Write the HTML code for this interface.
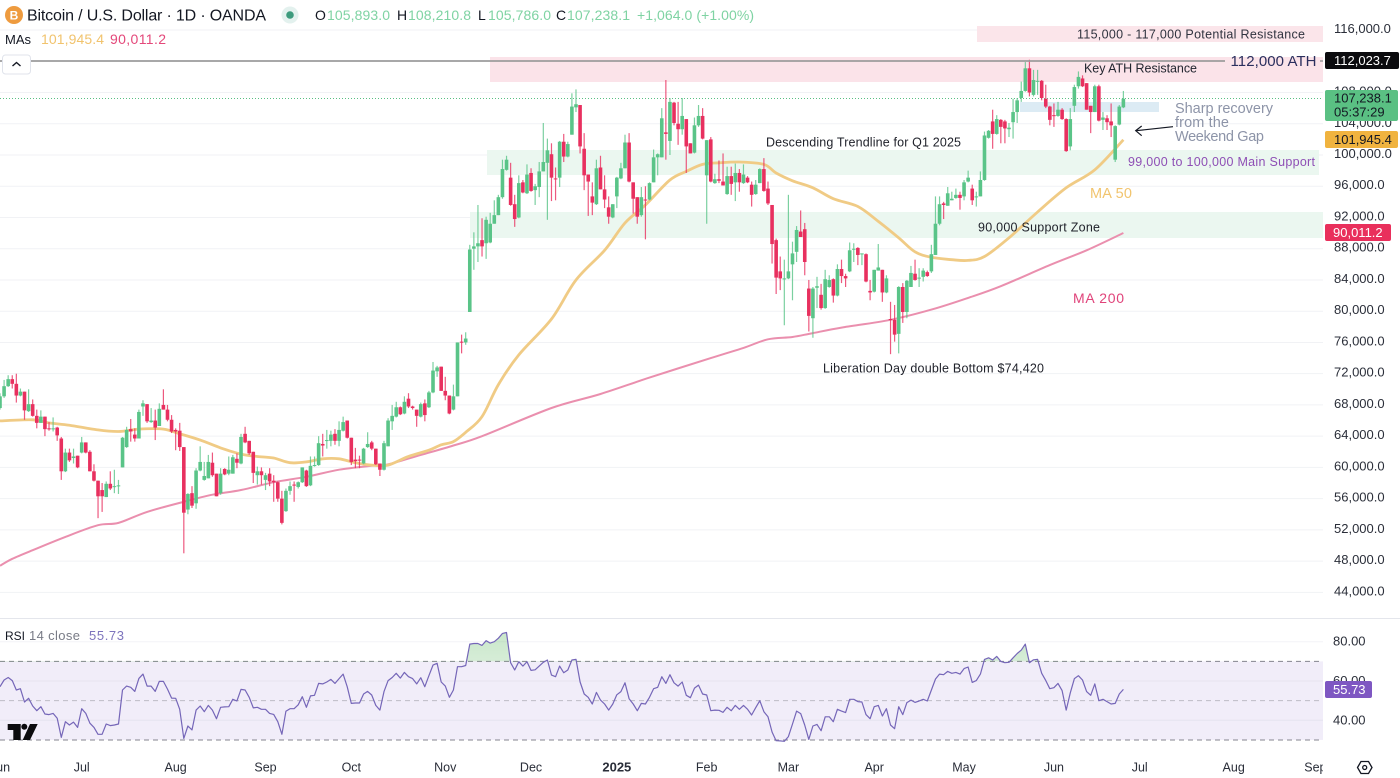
<!DOCTYPE html>
<html lang="en">
<head>
<meta charset="utf-8">
<title>Bitcoin / U.S. Dollar chart</title>
<style>
html,body{margin:0;padding:0;background:#fff;width:1400px;height:778px;overflow:hidden}
svg{display:block;font-family:"Liberation Sans","DejaVu Sans",sans-serif;filter:blur(0.3px)}
</style>
</head>
<body>
<svg id="chart" xmlns="http://www.w3.org/2000/svg" width="1400" height="778" viewBox="0 0 1400 778">
  <defs>
    <clipPath id="pane-clip"><rect x="0" y="0" width="1323" height="618"/></clipPath>
    <clipPath id="time-clip"><rect x="0" y="750" width="1323" height="28"/></clipPath>
    <clipPath id="rsi-above-clip"><rect x="0" y="619" width="1323" height="42.7"/></clipPath>
    <linearGradient id="rsi-over-grad" x1="0" y1="0" x2="0" y2="1">
      <stop offset="0" stop-color="#4caf50" stop-opacity="0.3"/>
      <stop offset="1" stop-color="#4caf50" stop-opacity="0.03"/>
    </linearGradient>
  </defs>
  <rect x="0" y="0" width="1400" height="778" fill="#ffffff"/>

  <g id="grid-lines"></g>

  <g clip-path="url(#pane-clip)">
    <rect x="977" y="26" width="346" height="16" fill="#fbe5ea"/>
    <rect x="490" y="57" width="833" height="25" fill="#fbe3e9"/>
    <rect x="1020" y="102" width="139" height="10" fill="#dcebf4"/>
    <rect x="487" y="150" width="832" height="25" fill="#ebf7f0"/>
    <rect x="470" y="212" width="853" height="26" fill="#ebf7f0"/>
  </g>

  <line x1="0" y1="98.5" x2="1323" y2="98.5" stroke="#5ac083" stroke-width="1" stroke-dasharray="1 2"/>

  <g id="ma-lines" clip-path="url(#pane-clip)"></g>
  <g id="candles" clip-path="url(#pane-clip)"></g>

  <line x1="0" y1="61" x2="1225" y2="61" stroke="#9a9a9a" stroke-opacity="0.85" stroke-width="2"/>
  <line x1="1320" y1="61" x2="1323" y2="61" stroke="#9a9a9a" stroke-width="1.5"/>

  <g>
    <text x="1077" y="38.5" font-size="12.5" fill="#30333f" textLength="228" lengthAdjust="spacing">115,000 - 117,000 Potential Resistance</text>
    <text x="1084" y="72.5" font-size="12.5" fill="#22252f" textLength="113" lengthAdjust="spacing">Key ATH Resistance</text>
    <text x="1230.5" y="66" font-size="15" fill="#2b2f5e" textLength="86" lengthAdjust="spacing">112,000 ATH</text>
    <text x="1175" y="113" font-size="14.5" fill="#8d94a8" textLength="98" lengthAdjust="spacing">Sharp recovery</text>
    <text x="1175" y="127" font-size="14.5" fill="#8d94a8" textLength="54" lengthAdjust="spacing">from the</text>
    <text x="1175" y="141" font-size="14.5" fill="#8d94a8" textLength="89" lengthAdjust="spacing">Weekend Gap</text>
    <path d="M1173 126.7 L1136 130.7 M1141.7 126 L1135.7 130.7 L1141.7 135.7" fill="none" stroke="#131722" stroke-width="1.2"/>
    <text x="766" y="146.5" font-size="12.5" fill="#1e2029" textLength="195" lengthAdjust="spacing">Descending Trendline for Q1 2025</text>
    <text x="1128" y="166" font-size="12.5" fill="#8e4fb5" textLength="187" lengthAdjust="spacing">99,000 to 100,000 Main Support</text>
    <text x="1090" y="198" font-size="14.5" fill="#f1c46e" textLength="42" lengthAdjust="spacing">MA 50</text>
    <text x="978" y="231.5" font-size="12.5" fill="#1e2029" textLength="122" lengthAdjust="spacing">90,000 Support Zone</text>
    <text x="1073" y="303" font-size="14" fill="#e0437a" textLength="51" lengthAdjust="spacing">MA 200</text>
    <text x="823" y="372.5" font-size="12.5" fill="#1e2029" textLength="221" lengthAdjust="spacing">Liberation Day double Bottom $74,420</text>
  </g>

  <g>
    <circle cx="14" cy="15" r="9" fill="#ee9b3f"/>
    <text x="14" y="19.5" font-size="12" font-weight="bold" fill="#ffffff" text-anchor="middle">B</text>
    <text x="27" y="20.5" font-size="16" fill="#131722" textLength="239" lengthAdjust="spacing">Bitcoin / U.S. Dollar · 1D · OANDA</text>
    <circle cx="290" cy="15" r="8.5" fill="#e3f1ee"/>
    <circle cx="290" cy="15" r="3.8" fill="#3d9b7d"/>
    <text x="315" y="20" font-size="14" fill="#131722">O</text>
    <text x="327" y="20" font-size="14" fill="#7fd3a3" textLength="63" lengthAdjust="spacing">105,893.0</text>
    <text x="397" y="20" font-size="14" fill="#131722">H</text>
    <text x="408" y="20" font-size="14" fill="#7fd3a3" textLength="63" lengthAdjust="spacing">108,210.8</text>
    <text x="478" y="20" font-size="14" fill="#131722">L</text>
    <text x="488" y="20" font-size="14" fill="#7fd3a3" textLength="63" lengthAdjust="spacing">105,786.0</text>
    <text x="556" y="20" font-size="14" fill="#131722">C</text>
    <text x="567" y="20" font-size="14" fill="#7fd3a3" textLength="63" lengthAdjust="spacing">107,238.1</text>
    <text x="637" y="20" font-size="14" fill="#7fd3a3" textLength="117" lengthAdjust="spacing">+1,064.0 (+1.00%)</text>
    <text x="5" y="44" font-size="13" fill="#131722" textLength="26" lengthAdjust="spacing">MAs</text>
    <text x="41" y="44" font-size="14" fill="#f1c36d" textLength="63" lengthAdjust="spacing">101,945.4</text>
    <text x="110" y="44" font-size="14" fill="#e4487a" textLength="56" lengthAdjust="spacing">90,011.2</text>
  </g>

  <g>
    <rect x="2.5" y="55" width="28" height="19" rx="3" fill="#ffffff" stroke="#e0e3eb"/>
    <path d="M12.5 66 L16.5 62.5 L20.5 66" fill="none" stroke="#131722" stroke-width="1.4"/>
  </g>

  <line x1="0" y1="618.5" x2="1400" y2="618.5" stroke="#e4e6ec" stroke-width="1"/>

  <g id="price-ticks"></g>

  <g>
    <rect x="1325" y="52" width="74" height="17" rx="2" fill="#0b0b0e"/>
    <text x="1334" y="65" font-size="13" fill="#ffffff">112,023.7</text>
    <rect x="1325" y="90" width="73" height="31" rx="2" fill="#5ac083"/>
    <text x="1334" y="102.5" font-size="13" fill="#131722">107,238.1</text>
    <text x="1334" y="116.5" font-size="13" fill="#131722">05:37:29</text>
    <rect x="1325" y="131" width="73" height="17" rx="2" fill="#f0b33f"/>
    <text x="1334" y="144" font-size="13" fill="#131722">101,945.4</text>
    <rect x="1325" y="224" width="66" height="17" rx="2" fill="#e9305c"/>
    <text x="1333" y="237" font-size="13" fill="#ffffff">90,011.2</text>
  </g>

  <text x="5" y="640" font-size="12" fill="#131722">RSI</text>
  <text x="29" y="640" font-size="13" fill="#787b86" textLength="51" lengthAdjust="spacing">14 close</text>
  <text x="89" y="640" font-size="13" fill="#7d74bd" textLength="35" lengthAdjust="spacing">55.73</text>

  <g id="rsi-pane"></g>

  <g id="rsi-ticks"></g>
  <rect x="1325" y="681" width="47" height="17" rx="2" fill="#7e57c2"/>
  <text x="1333" y="694" font-size="13" fill="#ffffff">55.73</text>

  <path d="M7.7 724 H20.7 V740 H13.3 V730 H7.7 Z M30 724 H37.7 L30 740 H22.7 Z" fill="#0b0b0e"/>
  <circle cx="24.3" cy="726.8" r="3" fill="#0b0b0e"/>

  <g id="time-ticks" clip-path="url(#time-clip)"></g>

  <g>
    <path d="M1357.5 767.5 L1361 761.5 H1368.5 L1372 767.5 L1368.5 773.5 H1361 Z" fill="none" stroke="#131722" stroke-width="1.3"/>
    <circle cx="1364.7" cy="767.5" r="2" fill="none" stroke="#131722" stroke-width="1.3"/>
  </g>
</svg>

<script>
// All prices are in thousands of USD, one entry per daily bar.
const opens = [
67.6,69.1,70.4,71.3,70.7,69.2,69.7,67.2,68.1,66.6,
65.7,66.5,65.0,64.9,65.1,63.7,59.5,61.9,61.2,61.5,
61.9,63.2,62.0,59.5,58.3,57.1,56.2,57.9,57.5,57.6,
60.0,62.6,64.9,64.2,63.7,67.8,68.1,65.8,66.0,65.3,
68.0,67.4,66.1,64.8,64.7,62.6,54.6,56.7,55.4,59.6,
58.4,58.6,60.6,59.2,56.7,59.8,59.2,59.2,61.1,60.5,
64.3,63.4,62.0,59.0,59.5,58.4,59.2,58.3,58.1,56.0,
54.4,57.0,57.8,57.5,58.1,59.6,57.7,60.2,60.3,63.0,
63.4,63.4,64.3,63.4,64.7,66.0,63.8,61.0,61.0,60.5,
62.6,63.2,62.4,60.5,59.7,62.7,65.9,66.5,67.7,66.9,
68.8,67.8,67.4,66.5,68.2,67.7,69.6,72.3,72.9,69.8,
69.2,67.4,69.1,76.1,76.0,79.9,88.0,88.3,89.1,88.7,
88.8,91.2,92.3,94.6,98.1,97.1,93.7,92.0,96.5,95.1,
97.7,95.5,95.9,97.9,99.0,100.1,97.0,97.1,101.7,99.8,
102.6,106.1,106.4,100.8,97.5,94.7,93.7,98.4,95.6,93.3,
92.0,94.7,97.0,98.3,101.6,96.5,94.6,92.3,94.3,94.3,
96.5,99.7,99.7,102.9,101.8,106.7,104.0,103.3,104.6,101.5,
100.3,103.8,105.0,97.4,102.0,96.4,96.9,96.6,95.0,97.3,
96.5,97.7,96.4,97.1,96.2,95.0,96.4,98.2,95.7,93.6,
89.1,85.1,84.1,84.2,86.0,87.6,90.2,90.5,82.9,79.1,
83.0,82.1,80.4,83.1,84.1,82.0,85.4,84.5,85.1,87.9,
88.1,87.3,87.3,82.6,82.5,85.2,85.3,82.4,79.0,78.9,
77.1,83.1,79.9,83.1,84.8,84.2,84.4,85.0,85.1,87.2,
91.2,93.8,93.5,94.2,94.5,94.9,94.7,96.6,95.7,94.6,
94.7,96.8,102.2,104.3,102.7,104.5,104.3,103.3,104.2,105.5,
107.3,108.2,111.1,107.7,109.4,109.5,107.2,106.2,105.1,105.0,
105.8,104.6,101.1,106.3,108.8,109.8,109.2,106.3,105.5,108.8,
104.5,104.7,104.3,99.4,103.9,106.1];
const highs = [
69.5,71.2,71.8,71.8,72.0,70.1,69.7,70.0,68.7,67.4,
67.3,66.5,65.8,66.4,65.2,63.9,62.4,62.4,62.4,61.5,
63.9,63.2,62.2,60.4,58.3,58.0,58.2,59.5,59.7,58.4,
63.9,65.2,66.2,65.0,67.4,68.6,68.1,67.6,67.4,68.2,
70.0,68.0,66.7,65.0,65.7,62.6,56.7,57.6,59.9,62.7,
60.7,61.6,61.9,59.2,59.9,59.9,61.4,61.6,61.8,64.3,
65.2,63.4,62.0,60.1,60.0,59.3,59.9,59.0,58.2,57.0,
57.3,58.2,58.2,58.2,60.0,59.7,61.4,61.4,64.0,64.3,
64.8,64.7,64.9,65.9,66.5,66.0,63.8,62.5,61.5,62.5,
64.5,63.4,62.4,60.5,63.4,66.3,68.0,68.4,67.8,69.1,
69.5,67.9,67.4,68.3,68.7,69.8,73.5,73.0,72.9,71.6,
69.2,70.6,76.0,77.0,77.3,88.5,90.1,93.6,91.9,92.1,
92.6,94.2,94.9,99.4,99.9,99.0,94.9,97.4,96.8,98.8,
98.3,96.3,99.1,104.1,102.1,101.5,98.4,101.8,102.7,101.7,
107.9,108.4,106.4,102.8,97.5,96.5,99.4,99.9,97.4,94.7,
93.7,97.2,99.0,102.6,102.8,96.5,94.6,95.9,96.0,96.5,
100.7,100.2,106.0,109.6,107.3,106.8,106.8,107.3,104.6,101.5,
104.8,106.4,106.0,101.9,102.3,97.6,99.3,100.2,98.5,98.5,
98.9,98.2,98.8,97.3,96.6,96.8,98.3,99.6,96.6,93.6,
89.3,87.0,86.6,94.9,88.9,90.9,92.9,91.3,84.0,83.1,
84.4,83.5,85.3,84.6,84.2,86.0,86.6,84.8,88.8,88.7,
88.2,87.4,87.4,84.0,85.3,88.6,85.3,84.6,81.2,80.8,
83.2,83.6,84.0,85.8,86.6,85.5,85.5,85.2,88.5,94.7,
94.7,94.0,95.9,95.3,95.7,95.3,96.8,98.0,96.2,95.3,
97.9,103.0,103.2,105.8,105.1,104.6,104.5,104.1,107.2,107.3,
109.4,111.9,112.2,110.9,110.9,109.6,109.0,106.3,106.6,106.8,
106.0,104.7,106.0,109.0,110.7,110.2,109.2,106.3,109.0,109.0,
105.5,105.1,106.6,103.8,106.4,108.2];
const lows = [
67.4,68.9,70.3,70.1,68.3,69.1,66.1,67.1,66.5,65.0,
65.7,64.0,64.7,64.6,63.4,58.4,59.4,60.7,60.5,59.9,
61.8,61.8,59.5,58.2,53.5,54.3,56.2,57.1,56.7,56.6,
60.0,62.5,63.3,63.3,63.7,66.6,65.7,65.7,63.5,65.3,
67.4,65.9,64.4,62.2,62.1,49.0,54.0,54.8,54.7,59.5,
58.3,58.6,58.8,56.3,56.5,59.0,59.0,59.2,59.9,60.4,
63.1,61.6,58.0,57.8,57.8,57.1,57.6,55.6,55.6,52.7,
54.3,56.5,55.6,57.3,58.0,57.5,57.6,60.1,60.2,61.4,
62.4,62.7,62.9,62.7,64.6,63.7,60.3,59.9,59.9,60.4,
62.5,62.2,60.3,58.9,59.6,62.7,64.8,66.4,66.7,66.8,
67.6,67.4,65.2,66.4,65.9,67.6,69.5,71.6,69.8,68.6,
66.8,67.3,69.1,74.6,75.7,79.9,85.3,86.3,87.0,86.7,
88.7,91.2,92.3,94.4,98.0,93.5,90.8,91.9,95.1,95.0,
95.3,93.6,94.6,97.9,91.7,94.1,94.2,95.9,99.1,99.7,
102.6,105.5,100.2,95.5,92.2,92.3,93.6,95.6,93.2,91.2,
91.9,93.2,96.9,98.3,96.5,92.5,91.2,92.1,89.2,94.2,
96.5,97.4,99.7,99.4,100.0,103.8,101.3,102.6,97.7,100.2,
100.2,103.6,102.0,91.2,96.5,96.3,96.4,96.1,94.9,94.9,
94.1,95.3,96.3,96.4,93.4,94.9,96.4,95.3,93.6,86.1,
82.2,82.7,78.2,84.1,81.4,86.3,89.5,84.6,77.4,76.6,
80.4,80.2,80.3,83.0,81.1,81.9,83.6,83.1,85.0,86.3,
85.9,85.9,83.7,81.4,82.4,85.2,81.2,82.3,74.5,76.1,
74.6,78.5,79.1,83.1,83.9,83.1,83.8,84.4,84.9,87.2,
91.0,91.8,93.5,94.2,94.4,93.0,94.2,96.5,93.6,93.4,
94.7,96.7,102.1,100.8,102.6,101.5,101.5,102.3,102.1,104.1,
106.8,108.1,107.5,107.5,107.7,107.0,106.0,103.8,103.6,104.9,
104.5,100.4,100.6,105.5,108.5,108.7,105.8,102.8,105.5,104.3,
103.2,103.2,102.3,99.1,103.8,106.0];
const closes = [
69.1,70.4,71.3,70.7,69.2,69.7,67.3,68.1,66.6,65.7,
66.5,64.9,64.9,65.0,64.1,59.5,61.9,60.9,61.4,60.0,
63.2,61.9,59.5,58.3,56.3,56.3,57.9,57.3,57.6,57.7,
63.8,64.8,64.6,63.7,67.1,68.2,65.9,66.0,65.1,67.5,
67.4,66.1,64.6,64.6,62.6,54.2,56.6,55.1,59.6,60.7,
58.9,60.7,59.0,56.3,59.2,59.1,59.7,61.3,60.6,63.9,
63.2,61.8,59.3,59.5,59.0,59.0,58.2,58.1,56.0,52.9,
57.0,57.6,57.7,58.1,60.0,57.6,60.2,60.3,63.1,62.8,
63.5,64.2,63.4,64.8,65.8,63.8,60.7,60.8,60.9,62.4,
63.0,62.4,60.4,59.7,63.1,66.0,66.6,67.7,66.8,68.4,
67.8,67.6,66.6,68.1,66.7,69.6,72.4,72.8,69.8,69.2,
66.9,69.1,76.0,76.0,76.5,87.9,88.3,88.7,88.3,91.7,
91.2,92.3,94.6,98.2,99.4,93.6,91.8,96.4,95.2,97.5,
95.4,96.0,97.9,99.1,100.6,97.1,96.9,101.7,99.8,101.4,
106.2,106.5,101.1,97.4,96.6,93.9,98.3,95.6,94.3,92.1,
93.7,97.1,98.3,101.6,96.6,94.4,92.1,94.6,94.2,96.4,
99.7,100.1,104.7,102.7,106.8,104.1,103.3,105.0,101.1,100.2,
103.8,105.0,102.1,101.9,96.6,96.9,96.7,96.1,97.3,96.3,
97.7,96.5,97.5,96.5,94.9,96.2,98.2,95.4,93.8,88.6,
84.3,84.2,84.2,85.1,87.4,90.4,89.5,86.3,79.4,82.9,
83.2,80.4,84.1,84.0,82.0,85.4,84.5,84.2,87.8,88.0,
87.2,87.4,83.8,82.4,85.3,85.6,82.4,84.2,78.9,77.0,
83.1,79.9,83.9,84.9,84.0,84.3,85.2,84.5,87.3,91.2,
93.7,93.6,95.1,94.4,94.9,94.5,96.5,97.1,94.2,94.7,
96.8,102.5,103.1,102.7,104.6,103.6,103.4,103.5,105.5,107.0,
108.2,111.1,108.0,109.6,109.5,107.3,106.2,104.5,105.0,105.8,
104.6,100.5,104.6,108.7,110.0,108.8,105.8,105.5,108.8,104.4,
104.8,104.2,103.8,103.7,106.2,107.2];

const ma50Bars = [0,8,12,17,24,29,34,40,44,49,54,59,63,67,71,75,79,83,87,91,95,100,105,108,111,114,118,122,127,135,141,148,153,158,164,168,172,176,181,187,190,194,199,204,210,215,220,224,228,233,237,241,247,254,261,268,275];
const ma50Values = [65.95,66.1,65.7,65.4,64.8,64.6,64.9,64.9,64.3,63.5,62.5,61.7,61.4,61.2,60.6,60.7,61.1,61.1,60.6,60.3,60.3,61.4,62.2,62.9,63.3,64.5,66.5,70.6,74.4,79.0,84.0,87.8,91.3,93.6,96.8,97.9,98.8,99.0,99.1,98.8,97.7,96.7,95.8,94.4,93.4,91.5,89.4,87.6,86.9,86.6,86.5,87.0,89.4,92.7,95.8,98.1,101.95];
const ma200Bars = [0,3,8,16,24,29,36,45,52,59,67,75,83,91,95,103,111,118,135,147,159,174,182,188,194,199,206,218,228,237,245,257,266,275];
const ma200Values = [47.4,48.3,49.4,51.1,52.6,52.9,54.3,55.6,56.5,57.1,58.1,58.8,59.7,60.2,60.4,61.6,62.8,64.0,67.6,69.4,71.5,74.0,75.3,76.4,76.7,77.2,77.9,78.9,80.2,81.7,83.2,85.9,87.8,90.01];

const rsiValues = [
57.1,60.5,61.8,60.2,55.4,56.1,49.3,51.2,47.3,44.9,
46.9,43.2,42.9,43.5,41.0,31.3,39.3,37.6,39.1,36.4,
45.9,43.5,38.5,36.4,32.9,32.9,38.1,37.3,37.6,38.1,
55.4,57.4,56.8,54.7,61.3,63.5,57.4,57.4,54.7,59.8,
59.8,55.9,51.3,51.2,45.6,30.8,37.1,35.1,45.2,47.3,
44.4,47.6,45.2,40.8,46.6,46.8,46.9,50.7,49.8,55.7,
55.4,51.7,46.3,46.6,45.6,45.6,43.5,43.0,39.3,32.9,
44.6,45.9,45.9,47.9,52.0,46.6,52.4,52.7,58.8,58.5,
59.5,60.8,58.8,61.2,63.5,57.1,48.6,48.8,48.8,53.4,
54.7,52.9,47.6,45.2,54.6,60.2,61.8,63.9,61.5,64.4,
62.2,61.2,58.5,61.7,57.1,62.7,68.1,69.0,59.5,57.4,
51.7,55.4,67.3,67.3,67.9,78.8,79.1,79.1,78.1,80.5,
79.3,80.0,81.8,84.2,84.7,69.3,65.6,69.8,67.6,69.8,
65.4,65.7,67.6,69.5,70.7,63.0,62.2,67.6,64.2,65.6,
70.7,71.0,59.5,53.4,51.7,48.3,54.2,50.3,48.3,45.2,
48.3,53.0,54.6,59.1,51.0,48.3,44.9,48.6,48.3,51.7,
56.1,56.8,62.2,58.8,63.2,59.1,57.4,59.5,52.7,51.5,
56.4,57.9,53.4,52.9,44.9,45.2,45.1,44.0,46.6,44.9,
47.6,45.6,47.6,45.6,42.7,46.4,50.0,44.4,41.8,34.0,
29.6,29.5,29.3,31.7,38.1,44.7,43.4,37.6,30.3,37.1,
37.9,34.7,41.8,41.8,39.3,45.6,44.7,43.9,50.7,50.7,
49.5,49.3,42.9,40.8,46.9,47.6,42.2,45.9,37.6,35.7,
46.9,42.9,49.0,50.3,49.1,49.8,50.7,49.8,55.4,61.0,
63.5,63.2,64.9,63.9,64.4,63.5,66.3,67.1,59.3,60.2,
63.5,71.0,71.8,70.7,72.5,70.0,69.3,69.5,71.8,74.0,
75.7,78.8,69.3,70.8,71.0,63.9,60.2,56.1,56.6,58.8,
55.1,45.2,54.0,61.2,62.7,60.5,54.6,52.7,58.5,50.0,
50.7,49.5,48.3,48.6,53.4,55.73];

const priceTicks = [116,112,108,104,100,96,92,88,84,80,76,72,68,64,60,56,52,48,44];
const rsiTicks = [80,60,40];
const rsiBandLevels = [70,50,30];
const timeLabels = ['Jun','Jul','Aug','Sep','Oct','Nov','Dec','2025','Feb','Mar','Apr','May','Jun','Jul','Aug','Sep'];
const timeLabelBars = [0,20,43,65,86,109,130,151,173,193,214,236,258,279,302,322];

const SVGNS = 'http://www.w3.org/2000/svg';
const barStep = 4.085;
const paneRight = 1323;
function xAt(i){ return i * barStep; }
function yPrice(k){ return 155 + (100 - k) * 7.81; }
function yRsi(r){ return 641.7 + (80 - r) * 1.965; }

const gridGroup = document.getElementById('grid-lines');
const priceTickGroup = document.getElementById('price-ticks');
priceTicks.forEach(function(k){
  const ln = document.createElementNS(SVGNS,'line');
  ln.setAttribute('x1',0);
  ln.setAttribute('x2',paneRight);
  ln.setAttribute('y1',yPrice(k));
  ln.setAttribute('y2',yPrice(k));
  ln.setAttribute('stroke','#f1f2f5');
  ln.setAttribute('stroke-width','1');
  
  
  gridGroup.appendChild(ln);
  const t = document.createElementNS(SVGNS,'text');
  t.setAttribute('x',1334);
  t.setAttribute('y',yPrice(k)+3);
  t.setAttribute('font-size','13');
  t.setAttribute('fill','#2a2e39');
  
  
  t.textContent = (k*1000).toLocaleString('en-US') + '.0';
  priceTickGroup.appendChild(t);
});

const maGroup = document.getElementById('ma-lines');
// Smooth curve through the series samples (Catmull-Rom to Bezier).
function smoothPath(bars, values){
  const p = bars.map(function(b,j){ return [xAt(b), yPrice(values[j])]; });
  let d = 'M' + p[0][0].toFixed(1) + ' ' + p[0][1].toFixed(1);
  for (let j = 0; j < p.length - 1; j++) {
    const a = p[Math.max(j-1,0)], b = p[j], c = p[j+1], e = p[Math.min(j+2,p.length-1)];
    const c1x = b[0] + (c[0]-a[0])/6, c1y = b[1] + (c[1]-a[1])/6;
    const c2x = c[0] - (e[0]-b[0])/6, c2y = c[1] - (e[1]-b[1])/6;
    d += ' C' + c1x.toFixed(1) + ' ' + c1y.toFixed(1) + ' ' + c2x.toFixed(1) + ' ' + c2y.toFixed(1) + ' ' + c[0].toFixed(1) + ' ' + c[1].toFixed(1);
  }
  return d;
}
const ma200Line = document.createElementNS(SVGNS,'path');
ma200Line.setAttribute('d',smoothPath(ma200Bars,ma200Values));
ma200Line.setAttribute('fill','none');
ma200Line.setAttribute('stroke','#ea8fae');
ma200Line.setAttribute('stroke-width','2');


maGroup.appendChild(ma200Line);
const ma50Line = document.createElementNS(SVGNS,'path');
ma50Line.setAttribute('d',smoothPath(ma50Bars,ma50Values));
ma50Line.setAttribute('fill','none');
ma50Line.setAttribute('stroke','#f0cb85');
ma50Line.setAttribute('stroke-width','2.8');


maGroup.appendChild(ma50Line);

const candleGroup = document.getElementById('candles');
for (let i = 0; i < closes.length; i++) {
  const up = closes[i] >= opens[i];
  const col = up ? '#5ac488' : '#e8305f';
  const x = xAt(i);
  const g = document.createElementNS(SVGNS,'g');
  
  
  const wick = document.createElementNS(SVGNS,'line');
  wick.setAttribute('x1',x);
  wick.setAttribute('x2',x);
  wick.setAttribute('y1',yPrice(highs[i]));
  wick.setAttribute('y2',yPrice(lows[i]));
  wick.setAttribute('stroke',col);
  wick.setAttribute('stroke-width','1.2');
  wick.setAttribute('stroke-opacity','0.8');
  
  
  g.appendChild(wick);
  const top = yPrice(Math.max(opens[i],closes[i]));
  const bot = yPrice(Math.min(opens[i],closes[i]));
  const body = document.createElementNS(SVGNS,'rect');
  body.setAttribute('x',x-1.8);
  body.setAttribute('width',3.6);
  body.setAttribute('y',top);
  body.setAttribute('height',Math.max(bot-top,1));
  body.setAttribute('fill',col);
  
  
  g.appendChild(body);
  candleGroup.appendChild(g);
}

const rsiGroup = document.getElementById('rsi-pane');
const band = document.createElementNS(SVGNS,'rect');
band.setAttribute('x',0);
band.setAttribute('width',paneRight);
band.setAttribute('y',yRsi(rsiBandLevels[0]));
band.setAttribute('height',yRsi(rsiBandLevels[2])-yRsi(rsiBandLevels[0]));
band.setAttribute('fill','#f1edf9');


rsiGroup.appendChild(band);

const rsiTickGroup = document.getElementById('rsi-ticks');
rsiTicks.forEach(function(r){
  const ln = document.createElementNS(SVGNS,'line');
  ln.setAttribute('x1',0);
  ln.setAttribute('x2',paneRight);
  ln.setAttribute('y1',yRsi(r));
  ln.setAttribute('y2',yRsi(r));
  ln.setAttribute('stroke', r === 80 ? '#f3f4f7' : '#e6e3ef');
  ln.setAttribute('stroke-width','1');
  
  
  rsiGroup.appendChild(ln);
  const t = document.createElementNS(SVGNS,'text');
  t.setAttribute('x',1333);
  t.setAttribute('y',yRsi(r)+4);
  t.setAttribute('font-size','13');
  t.setAttribute('fill','#2a2e39');
  
  
  t.textContent = r.toFixed(2);
  rsiTickGroup.appendChild(t);
});

rsiBandLevels.forEach(function(r){
  const ln = document.createElementNS(SVGNS,'line');
  ln.setAttribute('x1',0);
  ln.setAttribute('x2',paneRight);
  ln.setAttribute('y1',yRsi(r));
  ln.setAttribute('y2',yRsi(r));
  ln.setAttribute('stroke', r === 50 ? '#bdbcc6' : '#85858f');
  ln.setAttribute('stroke-width','1');
  ln.setAttribute('stroke-dasharray','5 4');
  
  
  rsiGroup.appendChild(ln);
});

const rsiPts = rsiValues.map(function(r,i){ return xAt(i).toFixed(1)+','+yRsi(r).toFixed(1); });
const rsiFill = document.createElementNS(SVGNS,'polygon');
rsiFill.setAttribute('points', '0,'+yRsi(70)+' '+rsiPts.join(' ')+' '+xAt(rsiValues.length-1).toFixed(1)+','+yRsi(70));
rsiFill.setAttribute('fill','url(#rsi-over-grad)');
rsiFill.setAttribute('clip-path','url(#rsi-above-clip)');


rsiGroup.appendChild(rsiFill);

const rsiLine = document.createElementNS(SVGNS,'polyline');
rsiLine.setAttribute('points',rsiPts.join(' '));
rsiLine.setAttribute('fill','none');
rsiLine.setAttribute('stroke','#7566b8');
rsiLine.setAttribute('stroke-width','1.2');
rsiLine.setAttribute('stroke-linejoin','round');


rsiGroup.appendChild(rsiLine);

const timeGroup = document.getElementById('time-ticks');
timeLabels.forEach(function(lbl,j){
  const t = document.createElementNS(SVGNS,'text');
  t.setAttribute('x',xAt(timeLabelBars[j]));
  t.setAttribute('y',771.5);
  t.setAttribute('font-size', lbl === '2025' ? '13' : '12.5');
  t.setAttribute('font-weight', lbl === '2025' ? 'bold' : 'normal');
  t.setAttribute('text-anchor','middle');
  t.setAttribute('fill','#2a2e39');
  
  
  t.textContent = lbl;
  timeGroup.appendChild(t);
});
</script>
</body>
</html>
